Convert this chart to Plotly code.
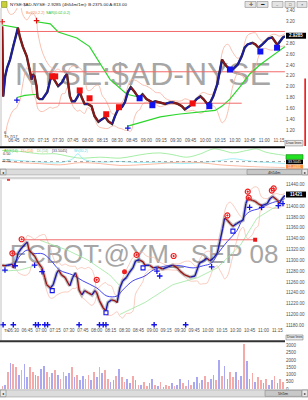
import plotly.graph_objects as go
import pandas as pd

DAY = "2008-07-17 "
W, H = 308, 400

# ---------------- data: NYSE:$AD-NYSE (top panel) ----------------
TOP_T = ["06:33","06:34","06:36","06:38","06:41","06:44","06:48","06:49","06:51","06:54",
         "06:58","07:01","07:03","07:04","07:06","07:08","07:09","07:11","07:14","07:19",
         "07:22","07:24","07:27","07:30","07:34","07:37","07:39","07:40","07:42","07:44",
         "07:47","07:50","07:52","07:54","07:57","08:00","08:04","08:07","08:11","08:15",
         "08:18","08:21","08:25","08:28","08:31","08:35","08:38","08:41","08:44","08:48",
         "08:51","08:53","08:56","09:00","09:06","09:09","09:14","09:19","09:24","09:27",
         "09:32","09:36","09:39","09:44","09:47","09:51","09:55","09:58","10:02","10:05",
         "10:08","10:12","10:15","10:17","10:20","10:23","10:28","10:33","10:37","10:40",
         "10:43","10:48","10:51","10:54","10:58","11:01","11:04","11:08","11:11","11:13",
         "11:15","11:19","11:21"]
TOP_V = [3.11,1.82,2.19,2.35,2.50,2.74,3.00,3.09,2.92,2.74,
         2.56,2.32,2.13,2.23,2.19,2.01,1.80,1.77,1.77,1.90,
         2.13,2.19,2.10,2.01,2.08,2.19,2.23,2.08,1.82,1.73,
         1.73,1.82,1.91,1.80,1.68,1.68,1.64,1.46,1.35,1.40,
         1.44,1.36,1.31,1.46,1.58,1.62,1.71,1.90,1.99,1.90,
         1.82,1.80,1.86,1.77,1.71,1.73,1.71,1.68,1.71,1.71,
         1.68,1.64,1.58,1.64,1.68,1.77,1.82,1.77,1.68,1.71,
         1.82,2.04,2.32,2.50,2.41,2.35,2.32,2.41,2.56,2.72,
         2.78,2.81,2.78,2.72,2.78,2.83,2.89,2.91,2.83,2.78,
         2.81,2.91,2.93]
TOP_LAST = "2.9285"

# SAR-like green trail (None = break between flips)
TOP_SAR_T = ["06:33","06:41","06:48", None,
             "06:48","06:56","07:08", None,
             "07:08","07:22","07:30","07:49","08:02","08:12","08:23","08:40","08:56", None,
             "08:41","08:58","09:14","09:32","09:51","10:10","10:17","10:25","10:35","10:45","10:56","11:07","11:16","11:21"]
TOP_SAR_V = [3.14,3.12,3.09, None,
             1.80,1.84,1.86, None,
             3.20,3.16,3.01,2.90,2.74,2.45,2.13,1.86,1.79, None,
             1.27,1.36,1.44,1.49,1.53,1.56,1.64,1.77,1.99,2.23,2.41,2.56,2.68,2.74]

# horizontal levels
TOP_LVL = [3.02, 2.275, 1.694]
TOP_LVL_START = ["06:48", "07:03", "07:08"]
TOP_LVL_END = ["11:21", "11:21", "10:37"]

# signal squares
TOP_RED_SQ_T = ["07:24","07:27","07:52","08:02","08:19","08:32","09:47"]
TOP_RED_SQ_V = [2.19, 2.19, 1.93, 1.785, 1.49, 1.62, 1.69]
TOP_BLUE_SQ_T = ["08:53","09:06","10:04","10:25","10:56","11:13"]
TOP_BLUE_SQ_V = [1.785, 1.657, 1.64, 2.317, 2.65, 2.72]
TOP_RED_PLUS_T = ["06:33","07:08"]
TOP_RED_PLUS_V = [3.20, 3.22]
TOP_BLUE_PLUS_T = ["06:48","08:41"]
TOP_BLUE_PLUS_V = [1.75, 1.235]

# indicator sub-panel
IND_G_T = ["06:33","06:51","07:11","07:28","07:39","07:52","08:13","08:33","08:47","09:00","09:14",
           "09:27","09:41","09:55","10:08","10:18","10:28","10:42","10:52","11:02","11:21"]
IND_G_V = [0.61,0.58,0.50,0.50,0.43,0.36,0.39,0.36,0.43,0.50,0.53,0.47,0.39,0.50,0.66,0.61,0.53,0.61,0.66,0.55,0.45]
IND_C_T = ["06:33","06:51","07:11","07:32","07:45","07:50","07:56","08:13","08:33","08:53",
           "09:14","09:34","09:55","10:15","10:28","10:42","10:56","11:09","11:21"]
IND_C_V = [0.32,0.28,0.23,0.21,0.34,0.50,0.32,0.23,0.25,0.21,0.23,0.18,0.21,0.28,0.34,0.28,0.23,0.21,0.18]
IND_S_T = ["06:33","06:51","07:11","07:32","07:52","08:13","08:33","08:53","09:14","09:34",
           "09:55","10:15","10:35","10:56","11:21"]
IND_S_V = [0.25,0.21,0.18,0.14,0.21,0.18,0.12,0.14,0.18,0.23,0.21,0.14,0.10,0.07,0.05]

# ---------------- data: ECBOT:@YM SEP 08 (bottom panel) ----------------
BOT_T = ["06:18","06:21","06:24","06:29","06:30","06:32","06:34","06:35","06:39","06:43",
         "06:45","06:47","06:50","06:53","06:57","07:01","07:04","07:06","07:10","07:13",
         "07:17","07:19","07:22","07:26","07:29","07:31","07:34","07:37","07:39","07:41",
         "07:44","07:47","07:51","07:55","07:58","08:00","08:03","08:07","08:10","08:12",
         "08:16","08:20","08:22","08:25","08:28","08:32","08:35","08:39","08:42","08:46",
         "08:50","08:52","08:57","09:01","09:06","09:11","09:17","09:22","09:27","09:30",
         "09:35","09:41","09:46","09:49","09:51","09:55","09:59","10:02","10:06","10:10",
         "10:13","10:16","10:18","10:21","10:24","10:27","10:31","10:35","10:38","10:41",
         "10:43","10:48","10:51","10:54","10:58","11:04","11:07","11:10","11:15","11:17",
         "11:20","11:23"]
BOT_V = [11291,11290,11291,11293,11286,11295,11304,11313,11323,11330,
         11334,11319,11313,11308,11295,11286,11268,11255,11249,11255,
         11277,11282,11273,11268,11258,11253,11268,11277,11268,11245,
         11236,11244,11240,11236,11244,11240,11225,11212,11207,11222,
         11227,11225,11222,11249,11262,11268,11277,11286,11299,11301,
         11297,11291,11291,11286,11288,11284,11288,11291,11286,11280,
         11273,11269,11271,11286,11295,11299,11304,11299,11304,11313,
         11335,11359,11378,11374,11368,11363,11368,11372,11374,11405,
         11414,11411,11409,11405,11401,11405,11414,11418,11411,11405,
         11414,11420]
BOT_LAST = "11421"

BMA_T = ["06:19","06:32","06:37","06:45","06:51","07:02","07:10","07:20","07:34","07:45","08:00",
         "08:11","08:22","08:28","08:39","08:52","09:01","09:16","09:30","09:44","09:55","10:04",
         "10:11","10:21","10:31","10:38","10:45","10:56","11:07","11:18","11:23"]
BMA_V = [11290,11295,11308,11319,11313,11312,11301,11282,11273,11262,11249,
         11234,11234,11245,11262,11271,11282,11290,11290,11286,11290,11295,
         11313,11335,11354,11378,11390,11396,11405,11411,11414]

BOT_SAR_T = ["06:18","06:37","06:56", None,
             "06:59","07:28","07:50","08:14","08:25", None,
             "08:25","08:52","09:22","09:49","10:10","10:35","10:53","11:10","11:23"]
BOT_SAR_V = [11280,11282,11291, None,
             11337,11319,11301,11273,11253, None,
             11200,11222,11255,11268,11286,11328,11378,11396,11405]

BOT_LVL = 11338
BOT_LVL_START, BOT_LVL_END = "06:40", "10:51"

BOT_RED_O_T = ["06:29","06:39","08:00","08:43","09:23","10:21","10:43","10:44","11:09","11:11"]
BOT_RED_O_V = [11313,11339,11264,11310,11308,11383,11427,11416,11429,11433]
BOT_RED_DOT_T = ["08:30"]
BOT_RED_DOT_V = [11279]
BOT_BLUE_T = ["06:21","06:32","06:53","07:01","09:05","09:08","10:04","10:45","10:58","11:16","11:21"]
BOT_BLUE_V = [11282,11290,11291,11279,11280,11271,11288,11398,11398,11401,11405]
BOT_BLUE_SQ_T = ["07:12","08:10","08:50","10:27"]
BOT_BLUE_SQ_V = [11244,11203,11286,11354]

# signal rows under the bottom chart
ROW_BLUE_T = ["06:19","06:30","06:54","06:57","07:04","07:07","07:41","08:03","08:07","08:10","09:02","09:36"]
ROW_RED_T = ["06:28","06:31","06:35","06:38","08:26","08:29","09:20","09:24","09:51","09:55",
             "10:09","10:12","10:15","10:18","10:22","10:39","10:42"]
ROW_RED_OPEN_T = ["07:59","11:07"]
ROW_BLUE_LEVEL, ROW_RED_LEVEL = 11181, 11170

# volume (3-minute buckets from 06:18)
VOL = [200,300,
       1200,1800,1700,1500,1000,
       1300,1700,800,1500,1200,1000,
       900,1400,1600,1200,800,1100,1300,
       1000,700,1200,900,1100,1500,800,1000,600,900,
       700,1000,600,1200,800,1500,1100,1300,700,500,
       600,900,1400,800,500,700,400,900,600,300,
       300,500,200,400,700,300,200,500,150,300,200,400,
       200,300,700,400,200,600,300,500,800,400,
       600,900,500,700,1000,600,
       2000,900,1600,700,1200,800,
       1150,600,900,3100,1950,700,1100,500,800,600,
       400,700,300,600,900,400,700,500]
VOL_SIDE = "rbrbrrbrbbrrbrbbrrbrbrrbbrbrbbrrbrbrbrrbbrbrrbbrbrbrrbbrbrbrrbrbbrrbrbbrbrrbbrbrbbrrbrbrbbrbrrbrbbrbr"

TOP_TICKS = [1.20,1.40,1.60,1.80,2.00,2.20,2.40,2.60,2.80,3.20,3.40]
BOT_TICKS = [11180,11200,11220,11240,11260,11280,11300,11320,11340,11360,11380,11400,11440]
VOL_TICKS = [0,500,1000,1500,2000,2500,3000]


# ---------------- helpers ----------------
def ts(lst):
    return [None if s is None else DAY + s for s in lst]

def fx(px):
    return px / W

def fy(py):
    return 1 - py / H

def updown(t, v):
    ux, uy, dx, dy = [], [], [], []
    for i in range(1, len(v)):
        sx = [t[i - 1], t[i], None]
        sy = [v[i - 1], v[i], None]
        if v[i] >= v[i - 1]:
            ux += sx; uy += sy
        else:
            dx += sx; dy += sy
    return ux, uy, dx, dy

def boll(t, v, win="20min", k=2.0):
    s = pd.Series(v, index=pd.to_datetime(t))
    m = s.rolling(win, min_periods=3).mean()
    sd = s.rolling(win, min_periods=3).std()
    xs = list(s.index.strftime("%Y-%m-%d %H:%M"))
    return xs, list(m + k * sd), list(m - k * sd)

FONT = "Liberation Sans, Arial, sans-serif"
fig = go.Figure()

def sc(x, y, ax, **kw):
    fig.add_trace(go.Scatter(x=x, y=y, xaxis="x" + ax, yaxis="y" + ax,
                             hoverinfo="skip", showlegend=False, **kw))

def mk(symbol, size, color, lw=1.1):
    return dict(symbol=symbol, size=size, color=color, line=dict(color=color, width=lw))

# ---------------- top panel traces ----------------
tt = ts(TOP_T)
bx, bu, bl = boll(tt, TOP_V)
sc(bx, bu, "", mode="lines", line=dict(color="#f7b09c", width=0.8, shape="spline"))
sc(bx, bl, "", mode="lines", line=dict(color="#f7b09c", width=0.8, shape="spline"))
sc(ts(TOP_SAR_T), TOP_SAR_V, "", mode="lines", line=dict(color="#2bd62b", width=1.2), connectgaps=False)
for lv, a, b in zip(TOP_LVL, TOP_LVL_START, TOP_LVL_END):
    sc([DAY + a, DAY + b], [lv, lv], "", mode="lines", line=dict(color="#f26a6a", width=1))
sc(tt, TOP_V, "", mode="lines", line=dict(color="#303030", width=2.4))
ux, uy, dx, dy = updown(tt, TOP_V)
sc(ux, uy, "", mode="lines", line=dict(color="#1c1ca8", width=1.8))
sc(dx, dy, "", mode="lines", line=dict(color="#921616", width=1.8))
sc(ts(TOP_RED_SQ_T), TOP_RED_SQ_V, "", mode="markers", marker=mk("square", 6, "#f01010", 0))
sc(ts(TOP_BLUE_SQ_T), TOP_BLUE_SQ_V, "", mode="markers", marker=mk("square", 6, "#1212f0", 0))
sc(ts(TOP_RED_PLUS_T), TOP_RED_PLUS_V, "", mode="markers", cliponaxis=False,
   marker=mk("cross-thin", 4, "#e01010", 1.2))
sc(ts(TOP_BLUE_PLUS_T), TOP_BLUE_PLUS_V, "", mode="markers", marker=mk("cross-thin", 4, "#1010e0", 1.2))

# indicator panel
sc(ts(IND_G_T), IND_G_V, "2", mode="lines", line=dict(color="#8fe88f", width=0.8, shape="spline"))
sc(ts(IND_C_T), IND_C_V, "2", mode="lines", line=dict(color="#8be8f2", width=0.8, shape="spline"))
sc(ts(IND_S_T), IND_S_V, "2", mode="lines", line=dict(color="#f7a88a", width=0.8, shape="spline"))

# ---------------- bottom panel traces ----------------
bt = ts(BOT_T)
bx2, bu2, bl2 = boll(bt, BOT_V)
sc(bx2, bu2, "3", mode="lines", line=dict(color="#f7b6a4", width=0.7, shape="spline"))
sc(bx2, bl2, "3", mode="lines", line=dict(color="#f7b6a4", width=0.7, shape="spline"))
sc(ts(BOT_SAR_T), BOT_SAR_V, "3", mode="lines", line=dict(color="#9ee69e", width=0.8), connectgaps=False)
sc([DAY + BOT_LVL_START, DAY + BOT_LVL_END], [BOT_LVL, BOT_LVL], "3", mode="lines",
   line=dict(color="#f26a6a", width=1))
sc([DAY + BOT_LVL_END], [BOT_LVL], "3", mode="markers", marker=mk("square", 4, "#e81818", 0))
sc(ts(BMA_T), BMA_V, "3", mode="lines", line=dict(color="#3030ee", width=0.9, shape="spline"))
sc(bt, BOT_V, "3", mode="lines", line=dict(color="rgba(120,120,120,0.42)", width=3.6))
ux, uy, dx, dy = updown(bt, BOT_V)
sc(ux, uy, "3", mode="lines", line=dict(color="#1a1ab0", width=1.4))
sc(dx, dy, "3", mode="lines", line=dict(color="#9a1414", width=1.4))
sc(ts(BOT_RED_O_T), BOT_RED_O_V, "3", mode="markers", marker=mk("circle-open-dot", 5, "#ee2020", 1.2))
sc(ts(BOT_RED_DOT_T), BOT_RED_DOT_V, "3", mode="markers", marker=mk("circle", 5, "#ee2020", 0))
sc(ts(BOT_BLUE_T), BOT_BLUE_V, "3", mode="markers", marker=mk("cross-thin", 4, "#1515e8", 1.3))
sc(ts(BOT_BLUE_SQ_T), BOT_BLUE_SQ_V, "3", mode="markers", marker=mk("square-open", 4, "#1515e8", 1.1))
sc(ts(ROW_BLUE_T), [ROW_BLUE_LEVEL] * len(ROW_BLUE_T), "3", mode="markers", cliponaxis=False,
   marker=mk("cross-thin", 4, "#1515e8", 1.4))
sc(ts(ROW_RED_T), [ROW_RED_LEVEL] * len(ROW_RED_T), "3", mode="markers", cliponaxis=False,
   marker=mk("circle", 4.5, "#ee1a1a", 0))
sc(ts(ROW_RED_OPEN_T), [ROW_RED_LEVEL] * len(ROW_RED_OPEN_T), "3", mode="markers", cliponaxis=False,
   marker=mk("circle-open-dot", 4.5, "#ee1a1a", 1.1))

# volume
vol_t = pd.date_range(DAY + "06:18", periods=len(VOL), freq="3min")
vcol = ["#a9a9f2" if VOL_SIDE[i % len(VOL_SIDE)] == "b" else "#f5aaaa" for i in range(len(VOL))]
fig.add_trace(go.Bar(x=vol_t, y=VOL, xaxis="x4", yaxis="y4", width=110000,
                     marker=dict(color=vcol, line=dict(width=0)), hoverinfo="skip", showlegend=False))

# ---------------- axes ----------------
tickf = dict(size=4.5, color="#505050", family=FONT)
xtop = dict(domain=[fx(2), fx(285)], type="date", showgrid=False, zeroline=False, showline=False,
            fixedrange=True)
fig.update_layout(
    xaxis=dict(**xtop, range=[DAY + "06:32:48", DAY + "11:21:06"], anchor="y",
               tickformat="%H:%M", dtick=900000, tick0=DAY + "06:45", tickfont=tickf, ticks=""),
    yaxis=dict(domain=[fy(138), fy(8)], range=[1.070, 3.455], side="right", anchor="x",
               tickvals=TOP_TICKS, tickformat=".2f", tickfont=tickf, showgrid=False,
               zeroline=False, ticks=""),
    xaxis2=dict(**xtop, matches="x", anchor="y2", showticklabels=False),
    yaxis2=dict(domain=[fy(169), fy(149)], range=[0.045, 0.695], anchor="x2",
                showticklabels=False, showgrid=False, zeroline=False),
    xaxis3=dict(**xtop, range=[DAY + "06:17:48", DAY + "11:23:12"], anchor="y3",
                tickformat="%H:%M", dtick=900000, tick0=DAY + "06:30", tickfont=tickf, ticks=""),
    yaxis3=dict(domain=[fy(329), fy(181)], range=[11177.6, 11449.2], side="right", anchor="x3",
                tickvals=BOT_TICKS, tickformat=".2f", tickfont=tickf, showgrid=False,
                zeroline=False, ticks=""),
    xaxis4=dict(**xtop, matches="x3", anchor="y4", showticklabels=False),
    yaxis4=dict(domain=[fy(392), fy(345)], range=[0, 3205], side="right", anchor="x4",
                tickvals=VOL_TICKS, tickfont=tickf, showgrid=False, zeroline=False, ticks=""),
)

# ---------------- decorations ----------------
shapes = []
ann = []

def rect(x0, y0, x1, y1, fill, line=None, lw=0.6, layer="above", **kw):
    shapes.append(dict(type="rect", xref="paper", yref="paper", x0=fx(x0), x1=fx(x1),
                       y0=fy(y1), y1=fy(y0), fillcolor=fill, layer=layer,
                       line=dict(color=line or fill, width=lw if line else 0), **kw))

def text(px, py, s, size=4.5, color="#333", anchor="left", bg=None, bold=False, family=FONT):
    if bold:
        s = "<b>" + s + "</b>"
    ann.append(dict(xref="paper", yref="paper", x=fx(px), y=fy(py), text=s, showarrow=False,
                    xanchor=anchor, yanchor="middle", font=dict(size=size, color=color, family=family),
                    bgcolor=bg, borderpad=0))

# watermarks (below traces)
rect(6, 56, 280, 88, "rgba(0,0,0,0)", layer="below",
     label=dict(text="NYSE:$AD-NYSE", textposition="middle center",
                font=dict(size=32, color="#a6a6a6", family="Liberation Sans, Arial")))
rect(4, 238, 284, 270, "rgba(0,0,0,0)", layer="below",
     label=dict(text="ECBOT:@YM_ SEP 08", textposition="middle center",
                font=dict(size=26, color="#a6a6a6", family="Liberation Sans, Arial")))

# left border lines
shapes.append(dict(type="line", xref="paper", yref="paper", x0=fx(1), x1=fx(1), y0=fy(147), y1=fy(8),
                   line=dict(color="#b0b0b0", width=0.8)))
shapes.append(dict(type="line", xref="paper", yref="paper", x0=fx(1), x1=fx(1), y0=fy(343), y1=fy(181),
                   line=dict(color="#b0b0b0", width=0.8)))

# title bar
rect(1.5, 1.5, 7, 7.5, "#c9cf3a", line="#7a8a20")
text(9, 4.6, "NYSE:$AD-NYSE: 2.9285 (4h54m/1m): B:2375.00 A:813.00", size=4.4, color="#202020")
for x0, x1 in [(245, 256), (257, 268), (272, 283), (285, 295), (297, 307)]:
    rect(x0, 1.5, x1, 7.5, "#e4e4e4", line="#8a8a8a")
text(250.5, 4.5, "✛", size=4.5, color="#222", anchor="center")
text(262.5, 4.5, "▬", size=3.5, color="#222", anchor="center")
text(277.5, 4.8, "–", size=4, color="#444", anchor="center")
text(290, 4.5, "□", size=4, color="#444", anchor="center")
text(302, 4.5, "×", size=4, color="#444", anchor="center")

# top legend
text(25, 13.5, "Bol(20,2.2)", size=3.8, color="#f08a50")
text(45, 13.5, "SAR(0.02,0.2)", size=3.8, color="#30c030")

# top chart extra labels
text(3, 133.5, "6", size=4, color="#333")
text(3, 137.5, "Th 7/17", size=4, color="#333")
rect(286, 33, 306, 39, "#000000")
text(296, 36, TOP_LAST, size=4.5, color="#ffffff", anchor="center", bold=True)
rect(304.3, 79, 306, 147, "#ee2222")
rect(285, 141.5, 303, 147, "#ececec", line="#808080")
text(294, 144.3, "Draw lines", size=3.3, color="#222", anchor="center")
rect(0, 147.3, 285, 149.3, "#000000")

# indicator panel labels
text(3, 151.8, "ADX(14)", size=3.6, color="#40c040")
text(20, 151.8, "DI+(14)", size=3.6, color="#f08a50")
text(36, 151.8, "DI-(14)", size=3.6, color="#a8c040")
text(51, 151.8, "[33.5045]", size=3.6, color="#505050")
text(73, 151.8, "Wt(30,2)", size=3.6, color="#60d8e8")
text(2, 155.3, "0.50", size=3.8, color="#333")
text(2, 162.7, "0.25", size=3.8, color="#333")
shapes.append(dict(type="line", xref="paper", yref="paper", x0=fx(2), x1=fx(285),
                   y0=fy(162.8), y1=fy(162.8), line=dict(color="#666", width=0.6, dash="dot")))
rect(286, 155.8, 303, 160.6, "#22e022", line="#108010")
rect(286, 161, 303, 165.5, "#000000")
text(294.5, 163.3, "33.5045", size=3.6, color="#ffffff", anchor="center")
rect(286, 166, 303, 170, "#ff8a3a")
text(294.5, 168, "11.4431", size=3.6, color="#ffffff", anchor="center")

# top scrollbar
rect(0, 170.3, 308, 176.3, "#dcdcdc", line="#9a9a9a")
rect(0.3, 170.5, 6, 176.1, "#e8e8e8", line="#808080")
rect(302, 170.5, 307.7, 176.1, "#e8e8e8", line="#808080")
text(3.1, 173.3, "◂", size=4, color="#222", anchor="center")
text(304.9, 173.3, "▸", size=4, color="#222", anchor="center")
rect(247, 170.8, 301.5, 175.8, "#c8c8c8", line="#8a8a8a")
text(274, 173.3, "4h54m", size=4, color="#222", anchor="center")

# bottom panel header
rect(0, 178.2, 80, 180.6, "#d4d4d4")
rect(7, 180.2, 10, 182.2, "#e84040")

# bottom chart extra labels
text(3, 333.5, "Th", size=4.2, color="#333")
rect(286, 193, 306, 199, "#000000")
text(296, 196, BOT_LAST, size=4.5, color="#ffffff", anchor="center", bold=True)
rect(286, 337.5, 303, 342.5, "#ececec", line="#808080")
text(294.5, 340, "Draw lines", size=3.3, color="#222", anchor="center")
rect(0, 342.8, 285, 344.8, "#333333")

# bottom scrollbar
rect(0, 392.8, 308, 400, "#dcdcdc", line="#9a9a9a")
rect(0.3, 393, 6, 399.7, "#e8e8e8", line="#808080")
rect(302, 393, 307.7, 399.7, "#e8e8e8", line="#808080")
text(3.1, 396.3, "◂", size=4, color="#222", anchor="center")
text(304.9, 396.3, "▸", size=4, color="#222", anchor="center")
rect(265, 393.3, 301.5, 399.4, "#c8c8c8", line="#8a8a8a")
text(283, 396.3, "5h5m", size=4, color="#222", anchor="center")

fig.update_layout(
    width=W, height=H, autosize=False,
    margin=dict(l=0, r=0, t=0, b=0, pad=0),
    paper_bgcolor="#ffffff", plot_bgcolor="rgba(0,0,0,0)",
    font=dict(family=FONT, size=5, color="#333"),
    shapes=shapes, annotations=ann, showlegend=False, bargap=0,
)

fig.write_html("out.html", config={"displayModeBar": False, "staticPlot": True})
